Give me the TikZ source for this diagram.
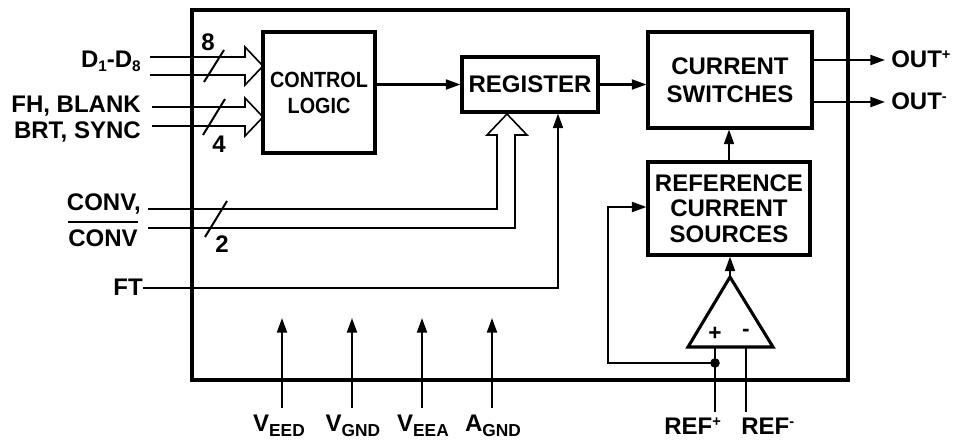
\documentclass[tikz,border=0pt]{standalone}
\usepackage{fontspec}
\setmainfont{Liberation Sans}
\usetikzlibrary{arrows.meta}
\newcommand\lowsub[1]{\raisebox{-0.4ex}{\fontsize{13}{13}\selectfont #1}}
\newcommand\smallsub[1]{\raisebox{-0.35ex}{\fontsize{11.5}{12}\selectfont #1}}
\newcommand\upsup[1]{\raisebox{0.6ex}{\fontsize{11}{11}\selectfont #1}}
\begin{document}
\begin{tikzpicture}[x=0.75pt,y=-0.75pt,
  txt/.style={font=\fontsize{18}{19}\selectfont\bfseries, inner sep=0pt},
  blk/.style={draw, line width=2.3pt, align=center, inner sep=0pt,
    font=\fontsize{18}{19}\selectfont\bfseries},
  wire/.style={line width=1.6pt},
  arr/.style={wire, -{Triangle[length=11pt,width=7.5pt]}},
  bus/.style={line width=1.2pt, line join=miter},
  slash/.style={line width=1.5pt}]
\useasboundingbox (0,0) rectangle (971,440);

% outer chip outline
\node[draw, line width=2.7pt, minimum width=492pt, minimum height=277.5pt, inner sep=0pt] (chip) at (520,195) {};

% blocks
\node[blk, minimum width=84pt, minimum height=90.75pt, font=\fontsize{16.5}{19.5}\selectfont\bfseries] (ctrl) at (319,92.5) {\scalebox{0.9}[1]{CONTROL}\\\scalebox{0.9}[1]{LOGIC}};
\node[blk, minimum width=102pt, minimum height=41.25pt] (reg) at (530,84.5) {REGISTER};
\node[blk, minimum width=123pt, minimum height=72pt, font=\fontsize{18}{21}\selectfont\bfseries] (sw) at (730,80) {CURRENT\\SWITCHES};
\node[blk, minimum width=121.5pt, minimum height=69.75pt] (refs) at (729,208.5) {REFERENCE\\CURRENT\\SOURCES};

% main signal flow
\draw[arr] (ctrl.east |- reg.west) -- (reg.west);
\draw[arr] (reg.east) -- (reg.east -| sw.west);
\coordinate (o1) at (885,60);
\coordinate (o2) at (885,102);
\draw[arr] (o1 -| sw.east) -- (o1);
\draw[arr] (o2 -| sw.east) -- (o2);
\node[txt, anchor=base west] (outp) at (891,67) {OUT\upsup{+}};
\node[txt, anchor=base west] (outm) at (891,109) {OUT\upsup{-}};
\draw[arr] (refs.north) -- (refs.north |- sw.south);

% amplifier
\coordinate (apex) at (730,277);
\coordinate (bl) at (688,347);
\coordinate (br) at (773,347);
\draw[line width=2.3pt, line join=miter] (apex) -- (br) -- (bl) -- cycle;
\node[txt, font=\fontsize{17}{17}\selectfont\bfseries] (plus) at (715,334) {+};
\node[txt, font=\fontsize{17}{17}\selectfont\bfseries] (minus) at (746,333) {-};
\draw[arr] (apex) -- (apex |- refs.south);
\coordinate (pp) at (715,347);
\coordinate (pm) at (746,347);
\coordinate (rp) at (715,412);
\coordinate (rm) at (746,412);
\draw[wire] (pp) -- (rp);
\draw[wire] (pm) -- (rm);
\coordinate (dot) at (715,363);
\coordinate (fb) at (608,207);
\fill (dot) circle (3.6pt);
\draw[arr] (dot) -| (fb) -- (fb -| refs.west);
\node[txt, anchor=base west] (refp) at (664,434) {REF\upsup{+}};
\node[txt, anchor=base west] (refm) at (741,434) {REF\upsup{-}};

% data bus D1-D8
\draw[bus] (150,57) -- (245,57) -- (245,47) -- (263,66) -- (245,85) -- (245,75) -- (150,75);
\draw[slash] (204,82) -- (224,50);
\node[txt] (n8) at (208,42) {8};
\node[txt, anchor=base east] (dlab) at (141,67) {D\smallsub{1}-D\smallsub{8}};

% control bus
\draw[bus] (152,107) -- (245,107) -- (245,98) -- (263,117) -- (245,136) -- (245,126) -- (152,126);
\draw[slash] (203,135) -- (225,99);
\node[txt] (n4) at (219,144) {4};
\node[txt, anchor=base east] (fhlab) at (141,112) {FH, BLANK};
\node[txt, anchor=base east] (brtlab) at (141,138) {BRT, SYNC};

% CONV bus to register
\draw[bus] (148,209) -- (497,209) -- (497,135) -- (487,135) -- (507,114) -- (527,135) -- (515,135) -- (515,228) -- (148,228);
\draw[slash] (205,237) -- (227,201);
\node[txt] (n2) at (222,244) {2};
\node[txt, anchor=base east] (conv1) at (141,210) {CONV,};
\node[txt, anchor=base east] (conv2) at (138,246) {CONV};
\draw[line width=1.4pt] ([yshift=5pt]conv2.north west) -- ([yshift=5pt]conv2.north east);

% FT
\node[txt, anchor=base east] (ftlab) at (143,295) {FT};
\coordinate (ftc) at (558,288);
\draw[arr] (ftlab.east |- ftc) -- (ftc) -- (ftc |- reg.south);

% supply pins
\foreach \x/\n in {282/veed, 352/vgnd, 422/veea, 492/agnd} {
  \coordinate (\n b) at (\x,408);
  \coordinate (\n t) at (\x,318);
  \draw[arr] (\n b) -- (\n t);
}
\node[txt, anchor=base] (veed) at (279,431) {V\lowsub{EED}};
\node[txt, anchor=base] (vgnd) at (353,431) {V\lowsub{GND}};
\node[txt, anchor=base] (veea) at (423,431) {V\lowsub{EEA}};
\node[txt, anchor=base] (agnd) at (493,431) {A\lowsub{GND}};
\end{tikzpicture}
\end{document}
